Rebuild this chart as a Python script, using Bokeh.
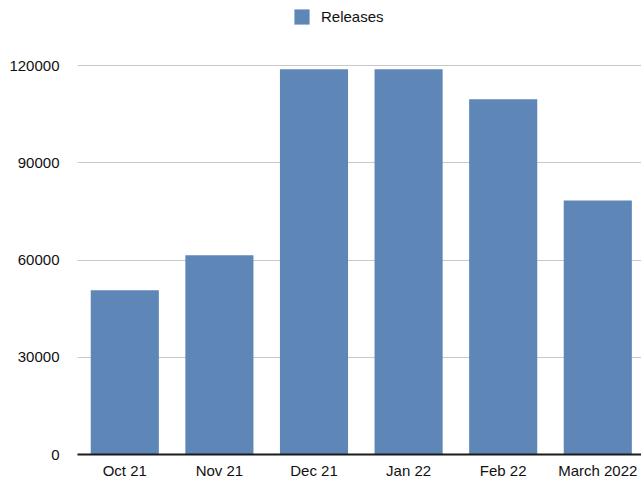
from bokeh.plotting import figure
from bokeh.models import Range1d, FixedTicker, NumeralTickFormatter, Legend, LegendItem, ColumnDataSource
from bokeh.embed import file_html
from bokeh.resources import INLINE

months = ["Oct 21", "Nov 21", "Dec 21", "Jan 22", "Feb 22", "March 2022"]
releases = [50700, 61500, 118900, 118900, 109600, 78400]
y_ticks = [0, 30000, 60000, 90000, 120000]

idx = list(range(len(months)))
src = ColumnDataSource(dict(x=idx, top=releases, label=months))

FONT = "Liberation Sans"
BAR = "#5E87B8"

p = figure(width=641, height=481, output_backend="svg", toolbar_location=None,
           x_range=Range1d(-0.5, 5.462), y_range=Range1d(0, 140088),
           min_border_left=77, min_border_right=0, min_border_top=0, min_border_bottom=27)
p.outline_line_color = None
p.background_fill_color = "white"

r = p.vbar(x="x", top="top", width=0.72, bottom=0, source=src, fill_color=BAR, line_color=None)

p.xgrid.grid_line_color = None
p.ygrid.grid_line_color = "#c8c8c8"
p.ygrid.grid_line_width = 1
p.ygrid.ticker = FixedTicker(ticks=y_ticks)

xa = p.xaxis[0]
xa.ticker = FixedTicker(ticks=idx)
xa.major_label_overrides = {i: m for i, m in enumerate(months)}
xa.axis_line_color = "#1a1a1a"
xa.axis_line_width = 2
xa.major_tick_line_color = None
xa.minor_tick_line_color = None
xa.major_tick_out = 0
xa.major_tick_in = 0
xa.major_label_standoff = 7
xa.major_label_text_font = FONT
xa.major_label_text_font_size = "15px"
xa.major_label_text_color = "#111111"

ya = p.yaxis[0]
ya.ticker = FixedTicker(ticks=y_ticks)
ya.formatter = NumeralTickFormatter(format="0")
ya.axis_line_color = None
ya.major_tick_line_color = None
ya.minor_tick_line_color = None
ya.major_tick_out = 0
ya.major_tick_in = 0
ya.major_label_standoff = 18
ya.major_label_text_font = FONT
ya.major_label_text_font_size = "15px"
ya.major_label_text_color = "#111111"

legend = Legend(items=[LegendItem(label="Releases", renderers=[r])],
                location=(215, 428), orientation="horizontal",
                glyph_width=19, glyph_height=19, label_standoff=10,
                padding=0, margin=0, spacing=0, label_height=19,
                border_line_color=None, background_fill_alpha=0,
                label_text_font=FONT, label_text_font_size="15px",
                label_text_color="#111111")
p.add_layout(legend, "center")

open("out.html", "w").write(file_html(p, INLINE))
